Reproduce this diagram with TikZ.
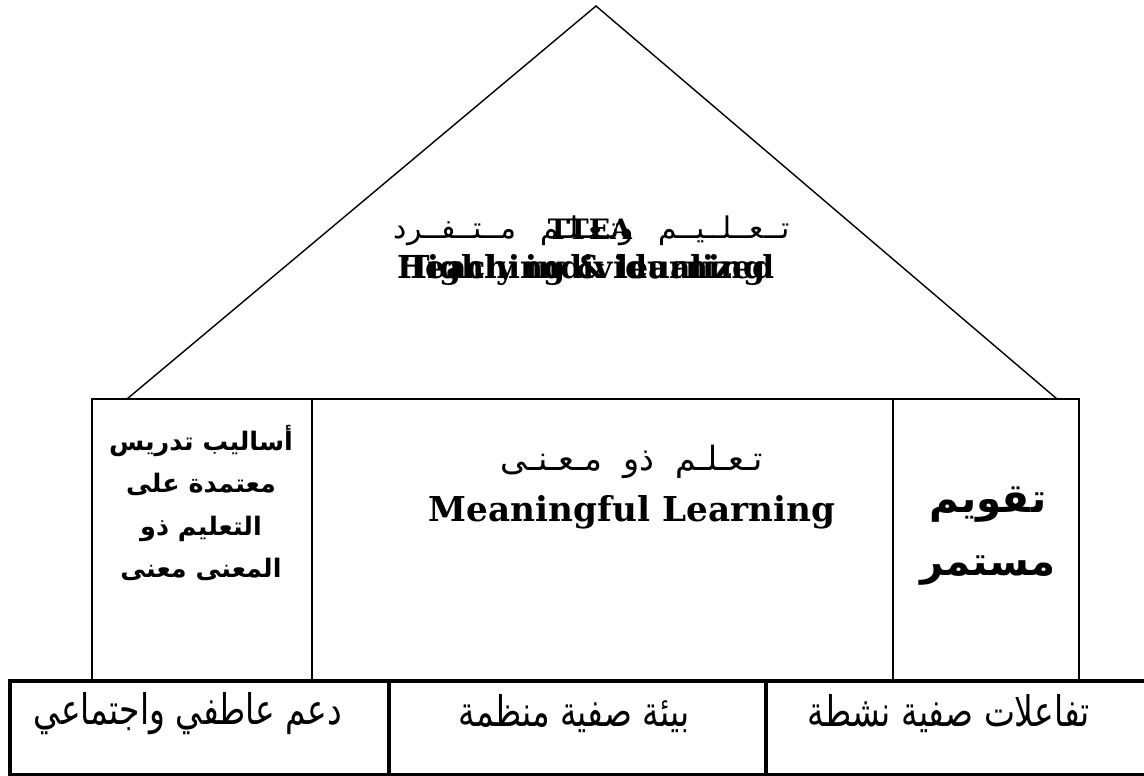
\documentclass[tikz,border=0pt]{standalone}
\usepackage{fontspec}
\usetikzlibrary{positioning}
\TeXXeTstate=1
\newfontfamily\arabicfont[Script=Arabic]{DejaVu Sans}
\newfontfamily\arabicnarrow[Script=Arabic,FakeStretch=0.78]{DejaVu Sans}
\newfontfamily\slabfont{DejaVu Serif}
\newcommand{\ar}[1]{\beginR #1\endR}

\begin{document}
\begin{tikzpicture}[x=0.02cm, y=-0.02cm,
    thinline/.style={line width=0.8pt},
    groundline/.style={line width=1.8pt},
    pillartext/.style={align=center, inner sep=0pt},
    slabtext/.style={inner sep=0pt},
    groundtext/.style={font=\arabicnarrow\fontsize{24}{28}\selectfont, inner sep=0pt}]
      \useasboundingbox (0,0) rectangle (1144,776);

      % roof
      \coordinate (apex) at (596,6);
      \coordinate (eaveL) at (127,399);
      \coordinate (eaveR) at (1057,399);
      \draw[thinline] (eaveL) -- (apex) -- (eaveR);
      \draw[thinline] (92,399) -- (1079,399);

      % pillars
      \draw[thinline] (92,399) rectangle (312,681);
      \draw[thinline] (893,399) rectangle (1079,681);

      % ground
      \draw[groundline] (1150,681) -- (10,681) -- (10,775) -- (1150,775);
      \draw[groundline] (389,681) -- (389,775);
      \draw[groundline] (766,681) -- (766,775);

      % roof texts (printed over one another)
      \node[font=\arabicfont\fontsize{17}{20}\selectfont, inner sep=0pt] (roofar) at (592,231)
        {\ar{تــعــلــيــم\hspace{14pt}وتـعـلـم\hspace{14pt}مــتــفــرد}};
      \node[slabtext, font=\slabfont\bfseries\fontsize{16}{19}\selectfont] (roofabbr) at (590,229) {TTEA};
      \node[slabtext, font=\slabfont\bfseries\fontsize{18}{22}\selectfont] (roofenA) at (586,270) {Highly individualized};
      \node[slabtext, font=\slabfont\bfseries\fontsize{18}{22}\selectfont] (roofenB) at (586,270) {Teaching \& learning};

      % core
      \node[font=\arabicfont\fontsize{19}{22}\selectfont, inner sep=0pt] (coreAr) at (632,462)
        {\ar{تـعـلـم\hspace{12pt}ذو\hspace{12pt}مـعـنـى}};
      \node[slabtext, font=\slabfont\bfseries\fontsize{19.5}{24}\selectfont] (coreEn) at (632,512) {Meaningful Learning};

      % pillar texts
      \node[pillartext, font=\arabicfont\bfseries\fontsize{14.5}{24}\selectfont] (methods) at (201,503)
        {\ar{أساليب تدريس}\\\ar{معتمدة على}\\\ar{التعليم ذو}\\\ar{المعنى معنى}};
      \node[pillartext, font=\arabicfont\bfseries\fontsize{23}{36}\selectfont] (assess) at (988,536)
        {\ar{تقويم}\\\ar{مستمر}};

      % ground texts
      \node[groundtext] (support) at (188,714) {\ar{دعم عاطفي واجتماعي}};
      \node[groundtext] (setting) at (574,714) {\ar{بيئة صفية منظمة}};
      \node[groundtext] (interact) at (949,714) {\ar{تفاعلات صفية نشطة}};
\end{tikzpicture}
\end{document}
